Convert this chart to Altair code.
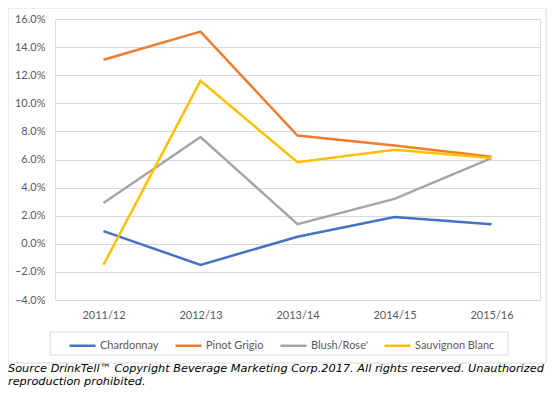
import altair as alt
import pandas as pd

categories = ["2011/12", "2012/13", "2013/14", "2014/15", "2015/16"]
series_names = ["Chardonnay", "Pinot Grigio", "Blush/Rose'", "Sauvignon Blanc"]
series_colors = ["#4472C4", "#ED7D31", "#A5A5A5", "#FFC000"]
chardonnay = [0.009, -0.015, 0.005, 0.019, 0.014]
pinot_grigio = [0.131, 0.151, 0.077, 0.070, 0.062]
blush_rose = [0.029, 0.076, 0.014, 0.032, 0.061]
sauvignon_blanc = [-0.015, 0.116, 0.058, 0.067, 0.061]
y_ticks = [-0.04, -0.02, 0.0, 0.02, 0.04, 0.06, 0.08, 0.10, 0.12, 0.14, 0.16]
footnote_line1 = "Source DrinkTell\u2122 Copyright Beverage Marketing Corp.2017.  All rights reserved. Unauthorized"
footnote_line2 = "reproduction prohibited."

rows = []
for name, vals in zip(series_names, [chardonnay, pinot_grigio, blush_rose, sauvignon_blanc]):
    for i, (c, v) in enumerate(zip(categories, vals)):
        rows.append({"year": c, "value": v, "series": name, "order": i})
df = pd.DataFrame(rows)

W, H = 485, 281
label_font = "Lato"
gray_text = "#595959"

border = alt.Chart(pd.DataFrame({"a": [0]})).mark_rect(
    fill="transparent", stroke="#D9D9D9", strokeWidth=1
).encode(x=alt.value(-47), x2=alt.value(491), y=alt.value(-11), y2=alt.value(344))

legend_box = alt.Chart(pd.DataFrame({"a": [0]})).mark_rect(
    fill="transparent", stroke="#D9D9D9", strokeWidth=1
).encode(x=alt.value(-5), x2=alt.value(453), y=alt.value(313), y2=alt.value(336))

lines = alt.Chart(df).mark_line(strokeWidth=2.5).encode(
    x=alt.X("year:N", sort=categories, scale=alt.Scale(type="point", padding=0.5),
            axis=alt.Axis(title=None, labelAngle=0, domain=False, ticks=False,
                          grid=False, labelPadding=9, labelFont=label_font,
                          labelFontSize=11, labelColor=gray_text)),
    y=alt.Y("value:Q", scale=alt.Scale(domain=[-0.04, 0.16], nice=False),
            axis=alt.Axis(title=None, format=".1%", values=y_ticks, domain=False,
                          ticks=False, labelPadding=10, labelFont=label_font,
                          labelFontSize=11, labelColor=gray_text,
                          gridColor="#D9D9D9", gridWidth=1)),
    color=alt.Color("series:N", sort=series_names,
                    scale=alt.Scale(domain=series_names, range=series_colors),
                    legend=alt.Legend(title=None, orient="none", direction="horizontal",
                                      legendX=13, legendY=312, symbolType="stroke",
                                      symbolSize=676, symbolStrokeWidth=2.5,
                                      labelFont=label_font, labelFontSize=11,
                                      labelColor=gray_text, labelOffset=3,
                                      columnPadding=11, padding=0)),
    order="order:Q",
)

def foot_text(t, yv):
    return alt.Chart(pd.DataFrame({"t": [t]})).mark_text(
        align="left", baseline="alphabetic", font="DejaVu Sans", fontStyle="italic",
        fontSize=11.3, color="#000000"
    ).encode(text="t:N", x=alt.value(-47), y=alt.value(yv))

foot1 = foot_text(footnote_line1, 353)
foot2 = foot_text(footnote_line2, 366)

chart = alt.layer(border, legend_box, lines, foot1, foot2).properties(
    width=W, height=H,
    autosize=alt.AutoSizeParams(type="none"),
    padding={"left": 47, "top": 11, "right": 11, "bottom": 88},
).configure_view(stroke=None).configure(background="white")

chart.save("out.html", embed_options={"renderer": "svg", "actions": False})
